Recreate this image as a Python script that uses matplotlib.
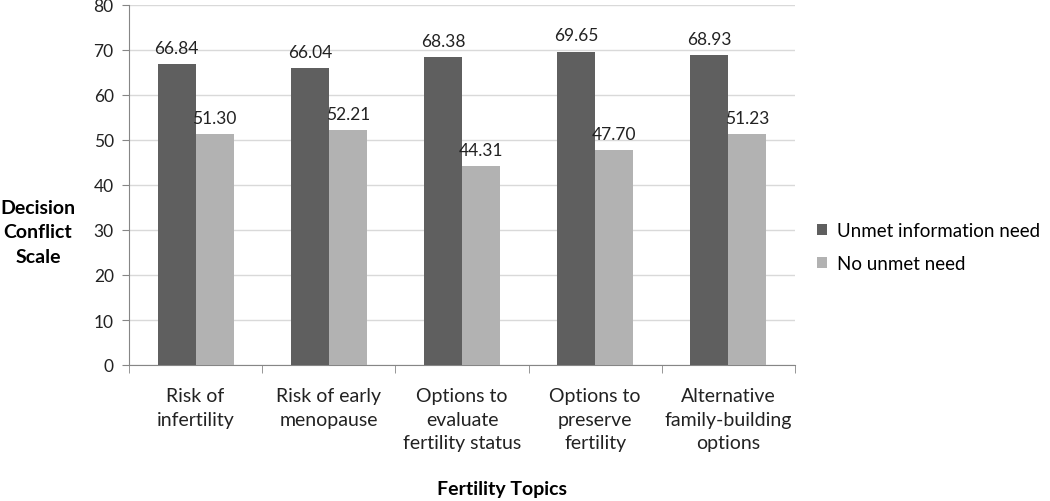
import numpy as np
import matplotlib.pyplot as plt

plt.rcParams['font.family'] = ['Lato', 'DejaVu Sans']

categories = ["Risk of\ninfertility", "Risk of early\nmenopause", "Options to\nevaluate\nfertility status",
              "Options to\npreserve\nfertility", "Alternative\nfamily-building\noptions"]
unmet = [66.84, 66.04, 68.38, 69.65, 68.93]
no_unmet = [51.30, 52.21, 44.31, 47.70, 51.23]
series_names = ["Unmet information need", "No unmet need"]

fig = plt.figure(figsize=(10.5, 5.02), dpi=100)
ax = fig.add_axes([129 / 1050, 1 - 366 / 502, (795 - 129) / 1050, 360 / 502])

x = np.arange(len(categories))
w = 0.285
b1 = ax.bar(x - w / 2, unmet, w, color='#5f5f5f', label=series_names[0], zorder=3)
b2 = ax.bar(x + w / 2, no_unmet, w, color='#b2b2b2', label=series_names[1], zorder=3)
for bars in (b1, b2):
    for r in bars:
        ax.text(r.get_x() + r.get_width() / 2, r.get_height() + 1.8, f"{r.get_height():.2f}",
                ha='center', va='bottom', fontsize=12.5, color='#222222')

ax.set_xlim(-0.5, len(categories) - 0.5)
ax.set_ylim(0, 80)
ax.set_yticks(range(0, 81, 10))
ax.yaxis.grid(True, color='#d9d9d9', linewidth=1, zorder=0)
ax.set_xticks(x)
ax.set_xticklabels(categories, fontsize=14, color='#222222', linespacing=1.45)
ax.set_xticks(np.arange(-0.5, len(categories)), minor=True)
ax.tick_params(axis='x', which='major', length=0, pad=16)
ax.tick_params(axis='x', which='minor', length=6, color='#868686')
ax.tick_params(axis='y', length=5, color='#868686', labelsize=12.5, labelcolor='#222222', pad=6)
for s in ('top', 'right'):
    ax.spines[s].set_visible(False)
for s in ('left', 'bottom'):
    ax.spines[s].set_color('#868686')

fig.text(38 / 1050, 1 - 233 / 502, "Decision\nConflict\nScale", ha='center', va='center',
         fontsize=14, fontweight='bold', linespacing=1.55)
fig.text(502 / 1050, 1 - 490 / 502, "Fertility Topics", ha='center', va='center',
         fontsize=14, fontweight='bold')

ax.legend(loc='center left', bbox_to_anchor=(800 / 1050, 1 - 248 / 502), bbox_transform=fig.transFigure,
          frameon=False, fontsize=13.5, handlelength=0.55, handleheight=0.55, handletextpad=0.5,
          labelspacing=0.85)

fig.savefig('out.png', dpi=100)
